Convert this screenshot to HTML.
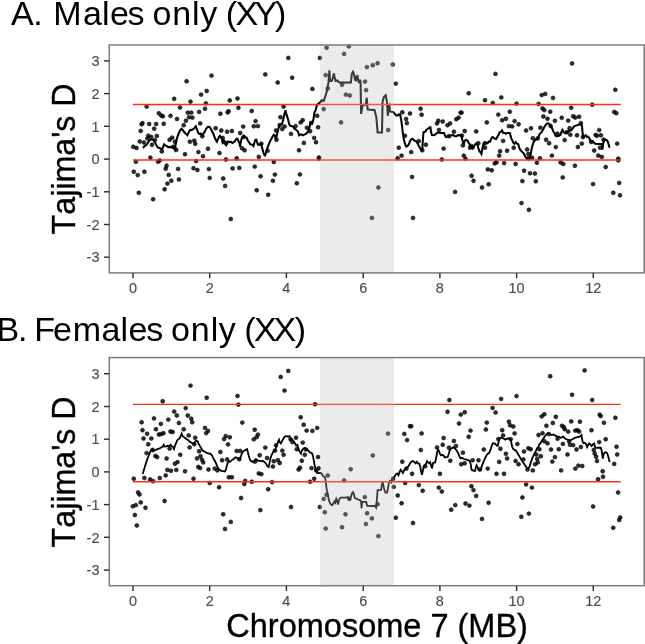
<!DOCTYPE html>
<html lang="en"><head><meta charset="utf-8"><title>Tajima's D on Chromosome 7</title>
<style>html,body{margin:0;padding:0;background:#fff;}body{width:645px;height:644px;overflow:hidden;font-family:"Liberation Sans",Arial,sans-serif;}svg{display:block;}text{font-kerning:none;}</style>
</head><body>
<svg width="645" height="644" viewBox="0 0 645 644" font-family="'Liberation Sans', Arial, sans-serif">
<rect width="645" height="644" fill="#fff"/>
<g>
<g fill="rgba(0,0,0,0.82)" stroke="rgba(0,0,0,0.82)" stroke-width="0.7">
<circle cx="211.5" cy="75.6" r="1.95"/>
<circle cx="186.6" cy="81.3" r="1.95"/>
<circle cx="206.7" cy="91.0" r="1.95"/>
<circle cx="201.1" cy="94.6" r="1.95"/>
<circle cx="174.2" cy="98.8" r="1.95"/>
<circle cx="229.8" cy="100.4" r="1.95"/>
<circle cx="190.5" cy="101.6" r="1.95"/>
<circle cx="205.9" cy="103.4" r="1.95"/>
<circle cx="146.6" cy="106.6" r="1.95"/>
<circle cx="180.0" cy="107.5" r="1.95"/>
<circle cx="205.0" cy="108.7" r="1.95"/>
<circle cx="199.1" cy="111.9" r="1.95"/>
<circle cx="228.5" cy="111.2" r="1.95"/>
<circle cx="227.6" cy="112.4" r="1.95"/>
<circle cx="187.8" cy="112.6" r="1.95"/>
<circle cx="191.3" cy="112.6" r="1.95"/>
<circle cx="220.4" cy="113.7" r="1.95"/>
<circle cx="158.9" cy="113.3" r="1.95"/>
<circle cx="161.2" cy="115.5" r="1.95"/>
<circle cx="162.8" cy="116.3" r="1.95"/>
<circle cx="170.5" cy="115.8" r="1.95"/>
<circle cx="189.0" cy="117.2" r="1.95"/>
<circle cx="192.4" cy="117.6" r="1.95"/>
<circle cx="177.0" cy="119.0" r="1.95"/>
<circle cx="185.9" cy="120.8" r="1.95"/>
<circle cx="142.5" cy="123.1" r="1.95"/>
<circle cx="141.6" cy="124.3" r="1.95"/>
<circle cx="149.2" cy="124.0" r="1.95"/>
<circle cx="156.1" cy="124.0" r="1.95"/>
<circle cx="163.7" cy="123.8" r="1.95"/>
<circle cx="200.2" cy="123.4" r="1.95"/>
<circle cx="183.7" cy="125.2" r="1.95"/>
<circle cx="154.2" cy="128.7" r="1.95"/>
<circle cx="215.6" cy="128.2" r="1.95"/>
<circle cx="140.7" cy="130.9" r="1.95"/>
<circle cx="221.3" cy="130.5" r="1.95"/>
<circle cx="227.1" cy="131.7" r="1.95"/>
<circle cx="231.9" cy="131.0" r="1.95"/>
<circle cx="148.3" cy="135.6" r="1.95"/>
<circle cx="156.8" cy="136.0" r="1.95"/>
<circle cx="151.2" cy="137.0" r="1.95"/>
<circle cx="147.4" cy="138.5" r="1.95"/>
<circle cx="202.3" cy="136.3" r="1.95"/>
<circle cx="172.2" cy="137.6" r="1.95"/>
<circle cx="169.6" cy="139.7" r="1.95"/>
<circle cx="154.9" cy="140.1" r="1.95"/>
<circle cx="139.8" cy="141.5" r="1.95"/>
<circle cx="143.9" cy="142.5" r="1.95"/>
<circle cx="189.9" cy="141.8" r="1.95"/>
<circle cx="194.3" cy="140.6" r="1.95"/>
<circle cx="195.2" cy="143.8" r="1.95"/>
<circle cx="174.9" cy="141.7" r="1.95"/>
<circle cx="152.0" cy="144.8" r="1.95"/>
<circle cx="133.3" cy="146.8" r="1.95"/>
<circle cx="136.5" cy="148.0" r="1.95"/>
<circle cx="173.3" cy="146.8" r="1.95"/>
<circle cx="176.3" cy="149.8" r="1.95"/>
<circle cx="161.8" cy="151.4" r="1.95"/>
<circle cx="208.0" cy="148.7" r="1.95"/>
<circle cx="198.4" cy="152.1" r="1.95"/>
<circle cx="185.0" cy="154.2" r="1.95"/>
<circle cx="219.5" cy="153.0" r="1.95"/>
<circle cx="203.0" cy="156.2" r="1.95"/>
<circle cx="150.4" cy="157.6" r="1.95"/>
<circle cx="222.7" cy="137.9" r="1.95"/>
<circle cx="223.6" cy="141.5" r="1.95"/>
<circle cx="226.2" cy="143.2" r="1.95"/>
<circle cx="135.9" cy="161.7" r="1.95"/>
<circle cx="158.1" cy="161.7" r="1.95"/>
<circle cx="159.8" cy="160.4" r="1.95"/>
<circle cx="196.1" cy="161.1" r="1.95"/>
<circle cx="225.9" cy="159.5" r="1.95"/>
<circle cx="166.6" cy="165.7" r="1.95"/>
<circle cx="165.7" cy="168.7" r="1.95"/>
<circle cx="178.1" cy="168.9" r="1.95"/>
<circle cx="193.5" cy="168.2" r="1.95"/>
<circle cx="197.4" cy="170.0" r="1.95"/>
<circle cx="208.9" cy="169.1" r="1.95"/>
<circle cx="232.6" cy="168.4" r="1.95"/>
<circle cx="133.8" cy="171.7" r="1.95"/>
<circle cx="144.4" cy="171.7" r="1.95"/>
<circle cx="137.7" cy="175.1" r="1.95"/>
<circle cx="168.7" cy="174.9" r="1.95"/>
<circle cx="209.7" cy="177.9" r="1.95"/>
<circle cx="223.2" cy="178.5" r="1.95"/>
<circle cx="178.9" cy="179.5" r="1.95"/>
<circle cx="171.3" cy="180.8" r="1.95"/>
<circle cx="167.4" cy="183.6" r="1.95"/>
<circle cx="225.1" cy="185.9" r="1.95"/>
<circle cx="164.6" cy="189.3" r="1.95"/>
<circle cx="138.8" cy="192.8" r="1.95"/>
<circle cx="153.1" cy="199.2" r="1.95"/>
<circle cx="230.8" cy="219.0" r="1.95"/>
<circle cx="326.6" cy="47.7" r="1.95"/>
<circle cx="344.1" cy="53.9" r="1.95"/>
<circle cx="288.3" cy="57.9" r="1.95"/>
<circle cx="319.9" cy="57.9" r="1.95"/>
<circle cx="265.3" cy="74.4" r="1.95"/>
<circle cx="292.2" cy="77.7" r="1.95"/>
<circle cx="325.7" cy="75.1" r="1.95"/>
<circle cx="277.7" cy="82.5" r="1.95"/>
<circle cx="312.4" cy="88.9" r="1.95"/>
<circle cx="342.0" cy="84.8" r="1.95"/>
<circle cx="327.8" cy="88.4" r="1.95"/>
<circle cx="345.9" cy="94.6" r="1.95"/>
<circle cx="237.5" cy="98.5" r="1.95"/>
<circle cx="283.6" cy="106.6" r="1.95"/>
<circle cx="238.4" cy="107.8" r="1.95"/>
<circle cx="323.7" cy="109.1" r="1.95"/>
<circle cx="251.7" cy="111.0" r="1.95"/>
<circle cx="317.2" cy="115.8" r="1.95"/>
<circle cx="280.4" cy="117.2" r="1.95"/>
<circle cx="255.6" cy="121.1" r="1.95"/>
<circle cx="302.7" cy="120.2" r="1.95"/>
<circle cx="300.7" cy="122.4" r="1.95"/>
<circle cx="341.1" cy="122.4" r="1.95"/>
<circle cx="243.2" cy="126.6" r="1.95"/>
<circle cx="253.8" cy="126.3" r="1.95"/>
<circle cx="257.9" cy="126.1" r="1.95"/>
<circle cx="279.7" cy="125.2" r="1.95"/>
<circle cx="284.5" cy="126.4" r="1.95"/>
<circle cx="282.3" cy="129.1" r="1.95"/>
<circle cx="295.6" cy="126.1" r="1.95"/>
<circle cx="306.9" cy="127.7" r="1.95"/>
<circle cx="318.1" cy="127.3" r="1.95"/>
<circle cx="311.2" cy="122.9" r="1.95"/>
<circle cx="310.1" cy="131.2" r="1.95"/>
<circle cx="276.0" cy="130.5" r="1.95"/>
<circle cx="240.2" cy="133.0" r="1.95"/>
<circle cx="291.0" cy="133.9" r="1.95"/>
<circle cx="314.2" cy="137.9" r="1.95"/>
<circle cx="243.7" cy="137.0" r="1.95"/>
<circle cx="316.0" cy="142.2" r="1.95"/>
<circle cx="303.9" cy="142.9" r="1.95"/>
<circle cx="276.5" cy="139.7" r="1.95"/>
<circle cx="261.4" cy="143.6" r="1.95"/>
<circle cx="242.0" cy="148.2" r="1.95"/>
<circle cx="244.6" cy="150.3" r="1.95"/>
<circle cx="299.0" cy="150.3" r="1.95"/>
<circle cx="267.6" cy="150.7" r="1.95"/>
<circle cx="258.8" cy="156.9" r="1.95"/>
<circle cx="319.0" cy="157.4" r="1.95"/>
<circle cx="236.7" cy="158.3" r="1.95"/>
<circle cx="273.8" cy="162.0" r="1.95"/>
<circle cx="319.0" cy="158.5" r="1.95"/>
<circle cx="239.3" cy="167.9" r="1.95"/>
<circle cx="254.7" cy="166.6" r="1.95"/>
<circle cx="299.9" cy="174.4" r="1.95"/>
<circle cx="274.9" cy="174.6" r="1.95"/>
<circle cx="260.6" cy="176.3" r="1.95"/>
<circle cx="272.9" cy="180.8" r="1.95"/>
<circle cx="296.8" cy="183.3" r="1.95"/>
<circle cx="256.7" cy="190.3" r="1.95"/>
<circle cx="268.2" cy="194.8" r="1.95"/>
<circle cx="348.9" cy="46.4" r="1.95"/>
<circle cx="377.6" cy="63.2" r="1.95"/>
<circle cx="372.8" cy="65.2" r="1.95"/>
<circle cx="366.9" cy="67.1" r="1.95"/>
<circle cx="392.8" cy="64.5" r="1.95"/>
<circle cx="365.0" cy="81.6" r="1.95"/>
<circle cx="395.8" cy="83.6" r="1.95"/>
<circle cx="366.1" cy="90.1" r="1.95"/>
<circle cx="349.8" cy="95.5" r="1.95"/>
<circle cx="420.6" cy="108.7" r="1.95"/>
<circle cx="402.3" cy="112.3" r="1.95"/>
<circle cx="410.0" cy="113.5" r="1.95"/>
<circle cx="421.6" cy="114.7" r="1.95"/>
<circle cx="460.6" cy="112.6" r="1.95"/>
<circle cx="406.1" cy="119.0" r="1.95"/>
<circle cx="406.9" cy="123.1" r="1.95"/>
<circle cx="458.6" cy="117.6" r="1.95"/>
<circle cx="456.3" cy="119.3" r="1.95"/>
<circle cx="438.3" cy="120.8" r="1.95"/>
<circle cx="442.7" cy="121.5" r="1.95"/>
<circle cx="437.0" cy="123.4" r="1.95"/>
<circle cx="450.1" cy="123.4" r="1.95"/>
<circle cx="447.5" cy="125.2" r="1.95"/>
<circle cx="388.2" cy="130.0" r="1.95"/>
<circle cx="439.0" cy="130.0" r="1.95"/>
<circle cx="453.9" cy="131.7" r="1.95"/>
<circle cx="405.0" cy="135.8" r="1.95"/>
<circle cx="448.9" cy="136.2" r="1.95"/>
<circle cx="418.8" cy="141.1" r="1.95"/>
<circle cx="425.9" cy="144.7" r="1.95"/>
<circle cx="398.8" cy="147.7" r="1.95"/>
<circle cx="422.3" cy="150.3" r="1.95"/>
<circle cx="443.6" cy="148.6" r="1.95"/>
<circle cx="411.2" cy="152.1" r="1.95"/>
<circle cx="401.6" cy="155.6" r="1.95"/>
<circle cx="397.6" cy="158.3" r="1.95"/>
<circle cx="441.8" cy="159.5" r="1.95"/>
<circle cx="412.1" cy="176.9" r="1.95"/>
<circle cx="378.4" cy="187.5" r="1.95"/>
<circle cx="455.1" cy="191.9" r="1.95"/>
<circle cx="371.9" cy="217.9" r="1.95"/>
<circle cx="413.0" cy="217.9" r="1.95"/>
<circle cx="572.1" cy="63.4" r="1.95"/>
<circle cx="495.5" cy="73.9" r="1.95"/>
<circle cx="468.7" cy="93.3" r="1.95"/>
<circle cx="545.2" cy="93.9" r="1.95"/>
<circle cx="541.7" cy="95.1" r="1.95"/>
<circle cx="501.3" cy="97.4" r="1.95"/>
<circle cx="553.0" cy="97.9" r="1.95"/>
<circle cx="485.0" cy="100.2" r="1.95"/>
<circle cx="492.8" cy="102.9" r="1.95"/>
<circle cx="516.5" cy="103.6" r="1.95"/>
<circle cx="538.6" cy="103.9" r="1.95"/>
<circle cx="571.2" cy="107.7" r="1.95"/>
<circle cx="542.5" cy="108.4" r="1.95"/>
<circle cx="544.3" cy="110.1" r="1.95"/>
<circle cx="461.6" cy="112.6" r="1.95"/>
<circle cx="509.8" cy="111.7" r="1.95"/>
<circle cx="550.2" cy="111.7" r="1.95"/>
<circle cx="498.3" cy="114.6" r="1.95"/>
<circle cx="543.4" cy="116.5" r="1.95"/>
<circle cx="573.2" cy="116.2" r="1.95"/>
<circle cx="575.3" cy="117.6" r="1.95"/>
<circle cx="547.5" cy="118.8" r="1.95"/>
<circle cx="505.9" cy="118.8" r="1.95"/>
<circle cx="502.2" cy="120.2" r="1.95"/>
<circle cx="561.7" cy="117.8" r="1.95"/>
<circle cx="568.2" cy="120.6" r="1.95"/>
<circle cx="554.9" cy="120.8" r="1.95"/>
<circle cx="514.6" cy="121.1" r="1.95"/>
<circle cx="486.8" cy="122.4" r="1.95"/>
<circle cx="518.6" cy="124.3" r="1.95"/>
<circle cx="508.9" cy="126.1" r="1.95"/>
<circle cx="512.1" cy="126.4" r="1.95"/>
<circle cx="540.4" cy="127.7" r="1.95"/>
<circle cx="531.0" cy="128.2" r="1.95"/>
<circle cx="526.1" cy="130.5" r="1.95"/>
<circle cx="569.6" cy="128.2" r="1.95"/>
<circle cx="464.7" cy="131.0" r="1.95"/>
<circle cx="476.2" cy="131.4" r="1.95"/>
<circle cx="462.0" cy="135.6" r="1.95"/>
<circle cx="570.3" cy="134.7" r="1.95"/>
<circle cx="532.8" cy="138.3" r="1.95"/>
<circle cx="546.1" cy="139.7" r="1.95"/>
<circle cx="503.1" cy="140.9" r="1.95"/>
<circle cx="564.7" cy="140.1" r="1.95"/>
<circle cx="549.1" cy="143.2" r="1.95"/>
<circle cx="478.3" cy="143.2" r="1.95"/>
<circle cx="462.9" cy="145.4" r="1.95"/>
<circle cx="470.0" cy="147.7" r="1.95"/>
<circle cx="472.6" cy="147.3" r="1.95"/>
<circle cx="485.0" cy="147.7" r="1.95"/>
<circle cx="513.7" cy="147.7" r="1.95"/>
<circle cx="555.8" cy="147.1" r="1.95"/>
<circle cx="527.1" cy="149.4" r="1.95"/>
<circle cx="500.1" cy="151.2" r="1.95"/>
<circle cx="507.1" cy="150.7" r="1.95"/>
<circle cx="499.2" cy="155.6" r="1.95"/>
<circle cx="528.4" cy="153.9" r="1.95"/>
<circle cx="551.9" cy="155.6" r="1.95"/>
<circle cx="463.8" cy="155.6" r="1.95"/>
<circle cx="539.9" cy="158.3" r="1.95"/>
<circle cx="465.5" cy="158.6" r="1.95"/>
<circle cx="528.4" cy="158.5" r="1.95"/>
<circle cx="494.7" cy="163.4" r="1.95"/>
<circle cx="496.5" cy="162.4" r="1.95"/>
<circle cx="504.1" cy="163.1" r="1.95"/>
<circle cx="515.6" cy="164.0" r="1.95"/>
<circle cx="536.9" cy="162.7" r="1.95"/>
<circle cx="560.6" cy="162.5" r="1.95"/>
<circle cx="563.3" cy="164.0" r="1.95"/>
<circle cx="574.9" cy="165.7" r="1.95"/>
<circle cx="487.8" cy="169.4" r="1.95"/>
<circle cx="491.7" cy="170.3" r="1.95"/>
<circle cx="524.1" cy="170.7" r="1.95"/>
<circle cx="530.0" cy="173.2" r="1.95"/>
<circle cx="534.9" cy="173.5" r="1.95"/>
<circle cx="471.6" cy="175.8" r="1.95"/>
<circle cx="562.7" cy="177.4" r="1.95"/>
<circle cx="473.5" cy="180.8" r="1.95"/>
<circle cx="522.4" cy="181.1" r="1.95"/>
<circle cx="535.8" cy="181.3" r="1.95"/>
<circle cx="488.7" cy="184.3" r="1.95"/>
<circle cx="482.0" cy="187.5" r="1.95"/>
<circle cx="521.5" cy="203.1" r="1.95"/>
<circle cx="528.9" cy="209.8" r="1.95"/>
<circle cx="615.3" cy="89.8" r="1.95"/>
<circle cx="592.2" cy="104.7" r="1.95"/>
<circle cx="614.2" cy="111.9" r="1.95"/>
<circle cx="616.3" cy="113.2" r="1.95"/>
<circle cx="579.1" cy="116.7" r="1.95"/>
<circle cx="580.9" cy="123.1" r="1.95"/>
<circle cx="599.2" cy="130.1" r="1.95"/>
<circle cx="577.0" cy="135.3" r="1.95"/>
<circle cx="595.6" cy="134.9" r="1.95"/>
<circle cx="596.9" cy="135.8" r="1.95"/>
<circle cx="600.9" cy="135.3" r="1.95"/>
<circle cx="582.9" cy="137.0" r="1.95"/>
<circle cx="603.6" cy="139.7" r="1.95"/>
<circle cx="591.2" cy="142.0" r="1.95"/>
<circle cx="581.8" cy="143.6" r="1.95"/>
<circle cx="617.2" cy="143.6" r="1.95"/>
<circle cx="577.9" cy="147.0" r="1.95"/>
<circle cx="600.0" cy="147.7" r="1.95"/>
<circle cx="594.2" cy="150.5" r="1.95"/>
<circle cx="598.3" cy="155.6" r="1.95"/>
<circle cx="601.8" cy="156.9" r="1.95"/>
<circle cx="618.3" cy="158.6" r="1.95"/>
<circle cx="618.3" cy="160.4" r="1.95"/>
<circle cx="605.7" cy="167.0" r="1.95"/>
<circle cx="593.1" cy="184.1" r="1.95"/>
<circle cx="619.2" cy="182.9" r="1.95"/>
<circle cx="613.3" cy="192.8" r="1.95"/>
<circle cx="620.0" cy="195.3" r="1.95"/>
<circle cx="550.6" cy="126.0" r="1.95"/>
<circle cx="557.4" cy="133.7" r="1.95"/>
<circle cx="566.7" cy="132.2" r="1.95"/>
<circle cx="537.7" cy="138.4" r="1.95"/>
<circle cx="484.7" cy="143.4" r="1.95"/>
<circle cx="471.2" cy="145.9" r="1.95"/>
<circle cx="532.1" cy="157.7" r="1.95"/>
</g>
<polyline points="143.0,148.1 144.2,146.5 145.5,145.3 146.7,144.7 147.9,142.8 149.2,140.7 150.4,139.7 151.9,139.4 153.2,139.9 154.4,141.6 155.6,143.4 156.6,145.7 157.9,147.4 159.4,148.1 161.0,148.6 162.2,149.4 163.2,146.5 164.1,144.4 165.3,145.3 166.8,146.1 168.1,147.1 169.7,146.9 171.3,147.4 172.8,146.9 174.0,148.4 175.0,149.9 175.6,144.7 176.5,140.3 177.5,136.6 178.7,133.5 180.2,130.4 181.5,128.8 182.7,130.0 184.2,132.0 185.8,133.7 187.4,135.3 188.7,132.2 190.2,129.8 191.7,130.0 193.3,129.1 194.5,127.9 195.8,126.3 197.0,129.5 198.2,132.9 199.5,134.1 200.7,133.5 202.0,135.0 203.2,134.1 204.8,131.6 206.3,128.5 207.6,127.0 209.4,126.8 210.7,128.5 211.9,131.0 213.2,133.5 214.4,136.6 215.6,139.7 216.9,141.6 218.0,139.3 219.0,136.8 219.9,135.9 221.1,137.4 222.0,138.7 222.7,142.4 223.6,141.1 224.8,143.4 226.1,145.1 226.9,142.4 228.2,141.4 229.8,142.1 231.0,141.8 232.3,143.0 233.9,142.1 235.4,140.5 236.6,138.7 237.6,138.9 238.5,141.1 239.4,143.4 240.1,146.7 240.7,142.4 241.6,138.7 242.6,136.8 243.8,135.6 245.1,137.2 246.6,137.7 247.8,140.5 249.1,142.4 250.3,144.2 252.2,144.9 253.4,146.1 254.3,143.0 255.3,139.9 256.3,139.7 257.1,142.4 258.0,144.6 259.6,144.6 260.9,144.2 261.7,146.1 262.5,149.2 263.3,152.3 264.2,154.8 265.2,155.4 266.2,151.7 267.1,148.6 267.9,146.7 268.9,144.2 270.2,141.1 271.4,138.7 272.7,136.2 273.9,134.7 274.9,135.6 275.8,139.3 276.6,136.2 277.6,131.8 278.6,128.1 279.5,125.0 280.7,124.0 282.0,123.8 282.8,121.3 283.8,116.9 284.8,112.6 285.5,110.3 286.3,113.8 287.3,116.9 288.2,120.0 289.1,123.8 290.0,125.6 291.9,126.2 293.2,126.9 294.4,128.7 295.6,129.3 298.1,131.7 299.1,135.3 301.3,134.4 303.0,135.3 304.8,134.4 306.6,133.5 308.0,131.7 309.2,128.2 310.5,122.9 311.9,123.8 313.3,120.2 314.5,112.3 315.8,109.6 316.8,105.2 318.0,104.0 320.5,102.1 321.7,100.2 323.6,100.9 324.8,97.8 326.1,94.0 327.3,89.1 328.6,81.6 329.4,70.4 330.0,81.0 331.7,81.0 332.9,77.9 333.9,73.5 334.8,77.9 335.6,81.0 337.3,80.4 338.5,81.9 340.4,82.6 350.9,82.5 351.8,74.1 353.0,71.9 354.0,74.1 355.0,79.1 355.9,81.0 356.5,76.6 357.5,76.0 358.4,81.0 359.2,82.8 360.0,79.7 360.6,82.8 361.1,113.9 362.1,107.7 363.0,105.0 365.8,104.6 366.7,97.8 367.7,109.6 374.5,109.9 376.4,117.6 377.6,132.5 382.0,132.5 382.6,101.5 383.8,97.1 385.7,95.3 386.9,101.5 387.8,115.8 388.6,106.4 389.4,105.2 390.0,111.4 391.3,111.7 393.2,112.0 396.2,115.5 397.7,115.5 398.9,114.2 400.2,114.8 401.2,119.8 402.2,127.3 403.0,134.1 403.9,139.7 404.9,143.4 406.1,146.5 407.4,146.1 408.6,144.7 409.9,141.6 411.1,139.4 412.4,138.7 413.6,139.9 414.8,140.9 416.3,141.2 417.6,143.4 418.8,145.9 420.1,148.1 421.3,150.2 422.3,149.4 422.9,139.7 423.5,132.2 425.4,131.6 426.6,129.8 427.9,128.8 429.5,127.5 430.4,127.3 431.0,132.2 432.0,135.0 434.1,135.3 435.3,134.5 437.0,132.9 438.4,132.5 440.3,132.9 442.2,132.9 444.0,132.9 444.9,135.3 445.9,137.0 447.8,136.6 449.6,136.2 451.5,135.3 453.4,135.0 454.8,136.2 456.5,136.2 458.1,135.3 459.6,135.0 461.1,135.3 462.0,138.4 463.0,142.2 463.9,143.4 464.8,140.9 465.8,139.7 467.6,140.7 470.0,145.3 471.2,147.1 472.5,148.4 473.7,146.5 475.0,144.7 476.2,143.4 477.5,144.7 478.4,148.4 479.3,150.9 480.6,152.7 481.4,154.0 482.2,149.6 483.0,145.9 483.9,143.4 484.9,142.2 486.4,142.8 487.6,143.2 488.6,141.6 489.9,141.9 491.1,139.1 492.4,137.0 493.6,137.5 494.8,138.7 496.1,139.1 497.3,137.0 498.6,134.7 499.6,132.2 501.1,131.6 502.0,130.4 503.3,132.9 504.8,132.9 506.0,133.7 507.3,132.9 508.8,132.9 510.0,133.2 510.7,136.6 511.6,139.1 512.5,140.9 513.5,142.8 514.5,143.7 515.7,142.2 517.0,143.7 518.2,144.0 519.1,147.1 519.9,149.4 521.2,150.9 522.4,152.1 523.7,153.4 524.7,155.2 525.7,157.1 526.9,158.1 528.4,158.1 529.6,157.7 530.6,154.6 531.5,149.6 532.4,145.9 533.4,142.8 534.3,140.9 535.6,139.7 537.1,139.1 538.3,137.2 539.6,134.1 540.8,132.9 542.0,131.6 543.3,129.1 544.5,126.6 545.8,124.8 547.0,123.5 548.5,123.3 551.2,126.0 552.2,128.5 553.4,131.6 554.7,133.5 555.9,136.0 557.4,136.2 558.9,135.7 560.5,134.7 561.4,132.2 562.4,130.0 563.4,131.6 564.6,132.9 566.1,132.9 567.6,132.0 569.2,131.0 571.1,130.4 572.3,129.1 573.6,127.0 574.8,126.0 576.7,125.4 578.3,124.8 579.8,124.5 581.3,124.2 582.0,126.0 582.5,132.2 583.3,137.2 584.5,136.2 585.7,135.3 587.0,137.0 588.2,136.6 589.1,137.8 590.3,140.3 591.6,141.6 592.8,141.2 594.1,142.8 595.3,143.7 599.7,144.0 601.9,144.0 602.4,149.6 603.1,144.7 603.6,140.7 604.6,139.4 606.1,139.7 607.4,140.9 608.4,143.4 609.0,145.9 609.6,147.8" fill="none" stroke="#000" stroke-width="2.05" stroke-linejoin="miter" stroke-miterlimit="3" stroke-linecap="butt"/>
<line x1="132.9" x2="620.7" y1="104.5" y2="104.5" stroke="#ff2f12" stroke-width="1.35"/>
<line x1="132.9" x2="620.7" y1="160.0" y2="160.0" stroke="#ff2f12" stroke-width="1.35"/>
<rect x="320.2" y="45.0" width="73.8" height="227.9" fill="rgb(190,190,190)" fill-opacity="0.3"/>
<rect x="109.3" y="45.0" width="534.9" height="227.9" fill="none" stroke="#7c7c7c" stroke-width="1.5"/>
<g stroke="#2e2e2e" stroke-width="1.45">
<line x1="104.0" x2="109.3" y1="257.2" y2="257.2"/>
<line x1="104.0" x2="109.3" y1="224.5" y2="224.5"/>
<line x1="104.0" x2="109.3" y1="191.8" y2="191.8"/>
<line x1="104.0" x2="109.3" y1="159.1" y2="159.1"/>
<line x1="104.0" x2="109.3" y1="126.3" y2="126.3"/>
<line x1="104.0" x2="109.3" y1="93.6" y2="93.6"/>
<line x1="104.0" x2="109.3" y1="60.9" y2="60.9"/>
<line x1="133.0" x2="133.0" y1="272.9" y2="278.2"/>
<line x1="209.7" x2="209.7" y1="272.9" y2="278.2"/>
<line x1="286.4" x2="286.4" y1="272.9" y2="278.2"/>
<line x1="363.2" x2="363.2" y1="272.9" y2="278.2"/>
<line x1="439.9" x2="439.9" y1="272.9" y2="278.2"/>
<line x1="516.6" x2="516.6" y1="272.9" y2="278.2"/>
<line x1="593.3" x2="593.3" y1="272.9" y2="278.2"/>
</g>
<g fill="#4d4d4d" stroke="#4d4d4d" stroke-width="0.15" font-size="14.5">
<text transform="translate(99.5,262.4) scale(1,1.045)" text-anchor="end">-3</text>
<text transform="translate(99.5,229.7) scale(1,1.045)" text-anchor="end">-2</text>
<text transform="translate(99.5,197.0) scale(1,1.045)" text-anchor="end">-1</text>
<text transform="translate(99.5,164.2) scale(1,1.045)" text-anchor="end">0</text>
<text transform="translate(99.5,131.5) scale(1,1.045)" text-anchor="end">1</text>
<text transform="translate(99.5,98.8) scale(1,1.045)" text-anchor="end">2</text>
<text transform="translate(99.5,66.1) scale(1,1.045)" text-anchor="end">3</text>
<text transform="translate(133.0,293.3) scale(1,1.045)" text-anchor="middle">0</text>
<text transform="translate(209.7,293.3) scale(1,1.045)" text-anchor="middle">2</text>
<text transform="translate(286.4,293.3) scale(1,1.045)" text-anchor="middle">4</text>
<text transform="translate(363.2,293.3) scale(1,1.045)" text-anchor="middle">6</text>
<text transform="translate(439.9,293.3) scale(1,1.045)" text-anchor="middle">8</text>
<text transform="translate(516.6,293.3) scale(1,1.045)" text-anchor="middle">10</text>
<text transform="translate(593.3,293.3) scale(1,1.045)" text-anchor="middle">12</text>
</g>
</g>
<g>
<g fill="rgba(0,0,0,0.82)" stroke="rgba(0,0,0,0.82)" stroke-width="0.7">
<circle cx="190.5" cy="385.6" r="1.95"/>
<circle cx="206.7" cy="397.7" r="1.95"/>
<circle cx="162.7" cy="401.2" r="1.95"/>
<circle cx="185.7" cy="408.1" r="1.95"/>
<circle cx="174.2" cy="411.6" r="1.95"/>
<circle cx="176.8" cy="415.5" r="1.95"/>
<circle cx="187.8" cy="415.5" r="1.95"/>
<circle cx="154.0" cy="418.4" r="1.95"/>
<circle cx="191.3" cy="418.7" r="1.95"/>
<circle cx="168.3" cy="419.6" r="1.95"/>
<circle cx="141.6" cy="422.3" r="1.95"/>
<circle cx="192.2" cy="422.3" r="1.95"/>
<circle cx="178.9" cy="423.0" r="1.95"/>
<circle cx="160.9" cy="423.9" r="1.95"/>
<circle cx="205.0" cy="427.9" r="1.95"/>
<circle cx="155.9" cy="429.2" r="1.95"/>
<circle cx="142.5" cy="430.2" r="1.95"/>
<circle cx="183.7" cy="429.3" r="1.95"/>
<circle cx="208.0" cy="430.9" r="1.95"/>
<circle cx="170.5" cy="431.5" r="1.95"/>
<circle cx="172.6" cy="432.0" r="1.95"/>
<circle cx="206.2" cy="433.1" r="1.95"/>
<circle cx="147.1" cy="433.8" r="1.95"/>
<circle cx="163.4" cy="433.2" r="1.95"/>
<circle cx="158.9" cy="434.5" r="1.95"/>
<circle cx="161.2" cy="434.1" r="1.95"/>
<circle cx="188.7" cy="435.4" r="1.95"/>
<circle cx="225.7" cy="436.1" r="1.95"/>
<circle cx="195.2" cy="437.7" r="1.95"/>
<circle cx="229.8" cy="437.3" r="1.95"/>
<circle cx="143.5" cy="438.5" r="1.95"/>
<circle cx="151.3" cy="438.5" r="1.95"/>
<circle cx="224.1" cy="439.1" r="1.95"/>
<circle cx="148.3" cy="444.2" r="1.95"/>
<circle cx="194.3" cy="444.2" r="1.95"/>
<circle cx="228.0" cy="444.4" r="1.95"/>
<circle cx="189.6" cy="447.4" r="1.95"/>
<circle cx="169.6" cy="448.6" r="1.95"/>
<circle cx="152.7" cy="450.0" r="1.95"/>
<circle cx="199.1" cy="451.3" r="1.95"/>
<circle cx="146.6" cy="453.1" r="1.95"/>
<circle cx="220.4" cy="452.0" r="1.95"/>
<circle cx="180.2" cy="454.8" r="1.95"/>
<circle cx="155.4" cy="455.9" r="1.95"/>
<circle cx="157.2" cy="457.1" r="1.95"/>
<circle cx="200.5" cy="456.2" r="1.95"/>
<circle cx="197.0" cy="458.4" r="1.95"/>
<circle cx="166.6" cy="458.5" r="1.95"/>
<circle cx="202.0" cy="459.8" r="1.95"/>
<circle cx="227.1" cy="459.4" r="1.95"/>
<circle cx="222.1" cy="460.3" r="1.95"/>
<circle cx="177.5" cy="462.1" r="1.95"/>
<circle cx="203.2" cy="462.4" r="1.95"/>
<circle cx="174.9" cy="463.7" r="1.95"/>
<circle cx="198.2" cy="466.9" r="1.95"/>
<circle cx="200.2" cy="468.1" r="1.95"/>
<circle cx="167.4" cy="469.9" r="1.95"/>
<circle cx="171.0" cy="470.8" r="1.95"/>
<circle cx="176.3" cy="469.9" r="1.95"/>
<circle cx="185.0" cy="471.3" r="1.95"/>
<circle cx="208.5" cy="469.5" r="1.95"/>
<circle cx="214.7" cy="468.6" r="1.95"/>
<circle cx="217.4" cy="470.4" r="1.95"/>
<circle cx="165.7" cy="475.4" r="1.95"/>
<circle cx="133.8" cy="478.7" r="1.95"/>
<circle cx="144.4" cy="478.0" r="1.95"/>
<circle cx="159.8" cy="478.0" r="1.95"/>
<circle cx="150.1" cy="479.4" r="1.95"/>
<circle cx="153.1" cy="481.2" r="1.95"/>
<circle cx="193.5" cy="478.7" r="1.95"/>
<circle cx="228.9" cy="477.3" r="1.95"/>
<circle cx="231.9" cy="477.3" r="1.95"/>
<circle cx="209.7" cy="483.0" r="1.95"/>
<circle cx="219.1" cy="487.2" r="1.95"/>
<circle cx="138.1" cy="492.4" r="1.95"/>
<circle cx="139.5" cy="494.5" r="1.95"/>
<circle cx="164.6" cy="501.0" r="1.95"/>
<circle cx="140.7" cy="502.4" r="1.95"/>
<circle cx="135.9" cy="505.1" r="1.95"/>
<circle cx="132.9" cy="506.3" r="1.95"/>
<circle cx="145.5" cy="507.8" r="1.95"/>
<circle cx="134.9" cy="515.0" r="1.95"/>
<circle cx="223.2" cy="514.3" r="1.95"/>
<circle cx="230.8" cy="521.9" r="1.95"/>
<circle cx="136.8" cy="525.5" r="1.95"/>
<circle cx="225.0" cy="529.0" r="1.95"/>
<circle cx="288.3" cy="370.9" r="1.95"/>
<circle cx="280.7" cy="376.9" r="1.95"/>
<circle cx="284.5" cy="390.6" r="1.95"/>
<circle cx="237.5" cy="395.9" r="1.95"/>
<circle cx="238.4" cy="404.6" r="1.95"/>
<circle cx="315.1" cy="404.2" r="1.95"/>
<circle cx="300.7" cy="417.3" r="1.95"/>
<circle cx="242.3" cy="422.6" r="1.95"/>
<circle cx="303.7" cy="424.7" r="1.95"/>
<circle cx="254.7" cy="429.7" r="1.95"/>
<circle cx="317.2" cy="427.9" r="1.95"/>
<circle cx="306.6" cy="430.6" r="1.95"/>
<circle cx="312.4" cy="430.9" r="1.95"/>
<circle cx="257.9" cy="434.6" r="1.95"/>
<circle cx="256.7" cy="437.1" r="1.95"/>
<circle cx="253.8" cy="439.3" r="1.95"/>
<circle cx="296.0" cy="437.7" r="1.95"/>
<circle cx="290.6" cy="439.4" r="1.95"/>
<circle cx="292.4" cy="442.1" r="1.95"/>
<circle cx="302.7" cy="442.6" r="1.95"/>
<circle cx="276.0" cy="445.3" r="1.95"/>
<circle cx="265.3" cy="447.6" r="1.95"/>
<circle cx="296.8" cy="449.2" r="1.95"/>
<circle cx="236.7" cy="450.9" r="1.95"/>
<circle cx="240.2" cy="450.9" r="1.95"/>
<circle cx="275.1" cy="450.6" r="1.95"/>
<circle cx="282.3" cy="450.6" r="1.95"/>
<circle cx="305.7" cy="449.5" r="1.95"/>
<circle cx="283.6" cy="454.8" r="1.95"/>
<circle cx="304.8" cy="454.8" r="1.95"/>
<circle cx="259.7" cy="455.2" r="1.95"/>
<circle cx="318.1" cy="457.0" r="1.95"/>
<circle cx="267.1" cy="458.0" r="1.95"/>
<circle cx="239.3" cy="459.3" r="1.95"/>
<circle cx="277.9" cy="460.1" r="1.95"/>
<circle cx="273.8" cy="461.2" r="1.95"/>
<circle cx="301.8" cy="460.8" r="1.95"/>
<circle cx="255.2" cy="461.6" r="1.95"/>
<circle cx="279.7" cy="463.0" r="1.95"/>
<circle cx="272.9" cy="466.5" r="1.95"/>
<circle cx="300.0" cy="467.8" r="1.95"/>
<circle cx="311.5" cy="468.1" r="1.95"/>
<circle cx="318.6" cy="468.3" r="1.95"/>
<circle cx="298.6" cy="469.5" r="1.95"/>
<circle cx="316.3" cy="470.4" r="1.95"/>
<circle cx="258.8" cy="473.4" r="1.95"/>
<circle cx="261.4" cy="474.1" r="1.95"/>
<circle cx="327.8" cy="475.5" r="1.95"/>
<circle cx="314.2" cy="478.7" r="1.95"/>
<circle cx="245.2" cy="480.9" r="1.95"/>
<circle cx="251.7" cy="481.7" r="1.95"/>
<circle cx="272.1" cy="482.1" r="1.95"/>
<circle cx="310.1" cy="481.7" r="1.95"/>
<circle cx="344.1" cy="480.5" r="1.95"/>
<circle cx="244.3" cy="484.0" r="1.95"/>
<circle cx="268.2" cy="489.2" r="1.95"/>
<circle cx="326.6" cy="494.7" r="1.95"/>
<circle cx="241.1" cy="498.0" r="1.95"/>
<circle cx="323.7" cy="498.9" r="1.95"/>
<circle cx="291.0" cy="507.0" r="1.95"/>
<circle cx="319.9" cy="507.0" r="1.95"/>
<circle cx="260.4" cy="510.1" r="1.95"/>
<circle cx="324.8" cy="512.2" r="1.95"/>
<circle cx="345.5" cy="514.3" r="1.95"/>
<circle cx="342.0" cy="527.2" r="1.95"/>
<circle cx="325.7" cy="528.6" r="1.95"/>
<circle cx="449.4" cy="400.0" r="1.95"/>
<circle cx="447.5" cy="411.8" r="1.95"/>
<circle cx="460.8" cy="414.6" r="1.95"/>
<circle cx="459.0" cy="423.5" r="1.95"/>
<circle cx="410.0" cy="426.2" r="1.95"/>
<circle cx="411.2" cy="426.2" r="1.95"/>
<circle cx="404.3" cy="433.9" r="1.95"/>
<circle cx="421.6" cy="433.4" r="1.95"/>
<circle cx="388.0" cy="433.6" r="1.95"/>
<circle cx="443.6" cy="438.0" r="1.95"/>
<circle cx="407.1" cy="440.1" r="1.95"/>
<circle cx="453.9" cy="441.0" r="1.95"/>
<circle cx="442.7" cy="444.7" r="1.95"/>
<circle cx="437.0" cy="447.4" r="1.95"/>
<circle cx="456.0" cy="446.0" r="1.95"/>
<circle cx="448.9" cy="447.7" r="1.95"/>
<circle cx="420.8" cy="450.0" r="1.95"/>
<circle cx="372.8" cy="455.5" r="1.95"/>
<circle cx="450.3" cy="460.8" r="1.95"/>
<circle cx="402.3" cy="461.7" r="1.95"/>
<circle cx="350.7" cy="469.2" r="1.95"/>
<circle cx="461.3" cy="464.2" r="1.95"/>
<circle cx="406.4" cy="468.6" r="1.95"/>
<circle cx="425.2" cy="466.3" r="1.95"/>
<circle cx="412.1" cy="473.8" r="1.95"/>
<circle cx="439.9" cy="473.8" r="1.95"/>
<circle cx="393.1" cy="478.7" r="1.95"/>
<circle cx="405.2" cy="483.0" r="1.95"/>
<circle cx="418.8" cy="485.1" r="1.95"/>
<circle cx="393.7" cy="486.9" r="1.95"/>
<circle cx="438.8" cy="487.6" r="1.95"/>
<circle cx="422.7" cy="490.8" r="1.95"/>
<circle cx="441.8" cy="491.5" r="1.95"/>
<circle cx="397.7" cy="495.5" r="1.95"/>
<circle cx="364.8" cy="497.1" r="1.95"/>
<circle cx="349.4" cy="498.9" r="1.95"/>
<circle cx="401.6" cy="503.2" r="1.95"/>
<circle cx="377.6" cy="504.2" r="1.95"/>
<circle cx="455.3" cy="505.1" r="1.95"/>
<circle cx="451.2" cy="509.7" r="1.95"/>
<circle cx="367.1" cy="513.2" r="1.95"/>
<circle cx="395.8" cy="517.7" r="1.95"/>
<circle cx="371.9" cy="518.4" r="1.95"/>
<circle cx="413.0" cy="523.0" r="1.95"/>
<circle cx="365.9" cy="524.0" r="1.95"/>
<circle cx="378.4" cy="536.1" r="1.95"/>
<circle cx="550.2" cy="376.2" r="1.95"/>
<circle cx="572.1" cy="394.8" r="1.95"/>
<circle cx="516.5" cy="396.1" r="1.95"/>
<circle cx="501.1" cy="398.9" r="1.95"/>
<circle cx="492.6" cy="407.9" r="1.95"/>
<circle cx="464.7" cy="412.3" r="1.95"/>
<circle cx="495.6" cy="412.5" r="1.95"/>
<circle cx="544.3" cy="414.3" r="1.95"/>
<circle cx="541.7" cy="416.4" r="1.95"/>
<circle cx="555.8" cy="416.8" r="1.95"/>
<circle cx="508.9" cy="421.7" r="1.95"/>
<circle cx="486.8" cy="422.6" r="1.95"/>
<circle cx="571.2" cy="421.4" r="1.95"/>
<circle cx="552.8" cy="423.0" r="1.95"/>
<circle cx="510.1" cy="425.3" r="1.95"/>
<circle cx="513.3" cy="426.5" r="1.95"/>
<circle cx="546.4" cy="425.8" r="1.95"/>
<circle cx="562.0" cy="425.8" r="1.95"/>
<circle cx="563.8" cy="427.0" r="1.95"/>
<circle cx="564.7" cy="429.2" r="1.95"/>
<circle cx="485.9" cy="429.5" r="1.95"/>
<circle cx="502.2" cy="430.2" r="1.95"/>
<circle cx="470.5" cy="430.6" r="1.95"/>
<circle cx="568.2" cy="431.6" r="1.95"/>
<circle cx="575.3" cy="430.6" r="1.95"/>
<circle cx="514.6" cy="433.4" r="1.95"/>
<circle cx="542.5" cy="433.2" r="1.95"/>
<circle cx="538.5" cy="435.0" r="1.95"/>
<circle cx="503.1" cy="435.4" r="1.95"/>
<circle cx="548.7" cy="434.1" r="1.95"/>
<circle cx="468.7" cy="436.8" r="1.95"/>
<circle cx="557.6" cy="438.7" r="1.95"/>
<circle cx="498.3" cy="439.1" r="1.95"/>
<circle cx="510.7" cy="439.1" r="1.95"/>
<circle cx="544.3" cy="441.2" r="1.95"/>
<circle cx="517.4" cy="444.0" r="1.95"/>
<circle cx="547.5" cy="443.3" r="1.95"/>
<circle cx="562.9" cy="443.9" r="1.95"/>
<circle cx="569.1" cy="441.2" r="1.95"/>
<circle cx="570.0" cy="444.7" r="1.95"/>
<circle cx="573.2" cy="445.1" r="1.95"/>
<circle cx="500.4" cy="448.8" r="1.95"/>
<circle cx="483.8" cy="449.5" r="1.95"/>
<circle cx="528.4" cy="448.3" r="1.95"/>
<circle cx="530.7" cy="449.2" r="1.95"/>
<circle cx="551.0" cy="449.5" r="1.95"/>
<circle cx="558.8" cy="449.2" r="1.95"/>
<circle cx="539.4" cy="449.2" r="1.95"/>
<circle cx="524.0" cy="451.5" r="1.95"/>
<circle cx="462.9" cy="452.7" r="1.95"/>
<circle cx="505.9" cy="453.8" r="1.95"/>
<circle cx="567.5" cy="454.5" r="1.95"/>
<circle cx="540.8" cy="456.2" r="1.95"/>
<circle cx="554.9" cy="457.1" r="1.95"/>
<circle cx="536.3" cy="454.5" r="1.95"/>
<circle cx="507.1" cy="458.5" r="1.95"/>
<circle cx="523.4" cy="459.4" r="1.95"/>
<circle cx="478.5" cy="460.3" r="1.95"/>
<circle cx="472.6" cy="460.3" r="1.95"/>
<circle cx="537.2" cy="458.9" r="1.95"/>
<circle cx="499.2" cy="461.9" r="1.95"/>
<circle cx="515.6" cy="461.0" r="1.95"/>
<circle cx="552.3" cy="461.6" r="1.95"/>
<circle cx="537.8" cy="462.4" r="1.95"/>
<circle cx="518.6" cy="464.2" r="1.95"/>
<circle cx="535.1" cy="464.2" r="1.95"/>
<circle cx="464.7" cy="463.3" r="1.95"/>
<circle cx="487.7" cy="468.6" r="1.95"/>
<circle cx="479.7" cy="469.5" r="1.95"/>
<circle cx="527.5" cy="469.5" r="1.95"/>
<circle cx="532.8" cy="470.4" r="1.95"/>
<circle cx="561.1" cy="470.4" r="1.95"/>
<circle cx="496.5" cy="473.8" r="1.95"/>
<circle cx="504.0" cy="473.8" r="1.95"/>
<circle cx="526.1" cy="484.4" r="1.95"/>
<circle cx="471.4" cy="486.2" r="1.95"/>
<circle cx="531.9" cy="487.6" r="1.95"/>
<circle cx="473.5" cy="490.1" r="1.95"/>
<circle cx="476.2" cy="495.9" r="1.95"/>
<circle cx="522.4" cy="497.5" r="1.95"/>
<circle cx="465.5" cy="503.5" r="1.95"/>
<circle cx="488.6" cy="502.8" r="1.95"/>
<circle cx="469.4" cy="505.6" r="1.95"/>
<circle cx="528.9" cy="513.6" r="1.95"/>
<circle cx="521.3" cy="516.8" r="1.95"/>
<circle cx="482.0" cy="518.9" r="1.95"/>
<circle cx="584.6" cy="370.4" r="1.95"/>
<circle cx="592.2" cy="400.0" r="1.95"/>
<circle cx="599.7" cy="414.6" r="1.95"/>
<circle cx="600.7" cy="416.1" r="1.95"/>
<circle cx="615.4" cy="417.8" r="1.95"/>
<circle cx="579.9" cy="421.7" r="1.95"/>
<circle cx="603.9" cy="422.8" r="1.95"/>
<circle cx="591.5" cy="430.2" r="1.95"/>
<circle cx="577.4" cy="430.2" r="1.95"/>
<circle cx="579.1" cy="431.5" r="1.95"/>
<circle cx="605.7" cy="439.3" r="1.95"/>
<circle cx="599.2" cy="442.1" r="1.95"/>
<circle cx="616.5" cy="446.7" r="1.95"/>
<circle cx="580.9" cy="447.0" r="1.95"/>
<circle cx="576.5" cy="449.5" r="1.95"/>
<circle cx="593.8" cy="450.0" r="1.95"/>
<circle cx="594.7" cy="453.6" r="1.95"/>
<circle cx="617.2" cy="454.5" r="1.95"/>
<circle cx="596.1" cy="456.8" r="1.95"/>
<circle cx="597.0" cy="461.0" r="1.95"/>
<circle cx="614.2" cy="463.9" r="1.95"/>
<circle cx="582.3" cy="466.0" r="1.95"/>
<circle cx="578.4" cy="465.6" r="1.95"/>
<circle cx="575.3" cy="468.6" r="1.95"/>
<circle cx="602.7" cy="471.3" r="1.95"/>
<circle cx="603.0" cy="476.8" r="1.95"/>
<circle cx="598.1" cy="479.3" r="1.95"/>
<circle cx="618.1" cy="492.5" r="1.95"/>
<circle cx="593.1" cy="506.5" r="1.95"/>
<circle cx="620.2" cy="517.5" r="1.95"/>
<circle cx="619.2" cy="520.0" r="1.95"/>
<circle cx="613.3" cy="527.8" r="1.95"/>
</g>
<polyline points="142.7,474.0 143.6,470.9 144.8,467.1 146.1,462.8 147.3,459.1 148.6,456.0 149.8,452.9 151.0,450.4 152.3,449.1 153.2,451.0 154.4,450.0 156.0,449.8 157.9,448.8 159.7,448.3 161.6,447.3 162.8,446.6 163.7,444.8 164.5,446.6 166.0,446.3 167.8,445.8 169.1,446.3 170.5,444.8 171.5,446.3 172.8,446.6 174.0,449.1 174.9,446.0 175.9,443.5 177.1,440.4 178.4,439.2 179.6,438.3 180.9,435.5 181.7,433.6 182.7,436.1 184.0,437.1 185.2,438.0 186.7,439.2 187.9,439.8 189.2,441.1 190.8,442.3 192.4,443.3 193.9,443.5 195.1,441.7 196.4,440.8 197.6,441.3 198.6,443.8 199.9,446.0 201.1,447.9 202.3,450.4 203.8,451.2 205.7,452.2 207.3,453.2 208.8,453.5 210.3,453.7 211.9,455.3 213.2,457.8 214.4,460.3 215.6,462.2 216.5,464.7 218.1,468.4 219.7,469.6 221.2,470.9 223.1,471.1 224.9,471.5 225.9,469.6 226.8,465.9 227.7,462.8 228.7,460.9 229.9,461.9 231.1,460.9 232.4,459.7 233.6,459.1 234.9,457.8 236.1,457.2 237.4,458.2 238.6,459.1 239.8,458.7 240.8,456.6 241.7,454.1 242.6,452.2 243.8,451.0 245.4,450.0 247.0,449.1 247.9,452.2 248.8,456.0 249.8,459.1 250.8,460.9 252.0,461.2 253.3,462.2 254.5,460.9 255.7,459.1 257.0,459.7 258.2,460.7 259.7,460.9 261.2,461.2 262.8,460.9 264.1,461.6 265.3,462.8 266.6,464.7 267.8,466.5 268.7,467.1 269.4,463.4 270.3,459.1 271.1,456.0 272.1,454.1 273.1,452.2 274.0,450.4 275.2,449.8 276.1,447.3 277.1,444.8 278.1,441.7 279.0,439.8 279.8,442.3 280.8,443.5 282.1,441.1 283.3,438.8 284.6,436.7 285.8,436.1 287.3,436.3 288.5,436.7 289.5,436.1 290.2,438.0 291.0,439.8 292.0,439.2 293.0,440.8 294.0,441.7 296.2,445.5 297.5,444.9 298.4,448.6 299.7,451.7 300.9,453.6 302.2,449.9 303.4,448.6 304.7,448.0 306.1,448.6 307.6,449.9 309.3,451.7 310.5,452.4 312.1,453.4 313.0,456.1 313.9,461.1 314.8,466.0 315.8,470.4 317.1,472.9 318.6,473.2 320.4,472.9 321.7,473.7 322.9,476.0 324.2,476.6 325.2,477.8 325.8,482.2 326.4,487.1 327.0,490.9 327.9,495.2 328.8,499.6 329.8,502.7 331.0,504.5 332.2,505.2 333.5,503.3 334.5,501.4 335.3,502.7 336.3,498.9 337.2,500.8 338.0,504.5 338.7,501.4 339.7,498.3 340.9,497.7 345.9,497.7 347.8,497.1 349.0,499.6 349.9,498.9 350.9,497.1 351.9,493.4 353.1,492.1 354.0,494.6 354.8,498.1 356.5,498.6 358.3,499.6 360.2,500.2 361.1,501.4 361.5,508.3 362.2,501.8 366.2,501.8 367.2,505.8 374.9,506.0 376.1,507.6 376.9,499.6 377.6,490.2 381.1,489.9 381.9,484.7 382.6,481.6 383.4,485.9 384.3,489.6 385.5,492.7 387.1,492.7 388.0,488.4 388.8,483.4 389.8,480.9 391.1,482.4 392.0,479.7 393.3,477.8 394.8,476.2 396.0,474.1 397.3,473.5 398.5,475.3 399.5,472.2 400.7,469.8 402.0,471.6 402.9,472.9 404.1,470.4 405.7,468.5 407.2,467.5 408.7,466.0 409.9,463.5 411.2,461.7 412.8,461.1 414.4,462.0 415.7,463.3 416.9,461.7 418.1,463.5 419.4,463.8 420.4,467.3 421.1,471.6 421.9,474.7 422.7,471.6 423.6,466.6 424.6,465.4 425.8,464.2 427.1,461.1 428.1,462.5 429.3,463.3 430.2,462.3 431.1,465.4 432.0,468.5 433.0,462.9 435.2,462.5 436.5,456.0 437.2,451.6 438.1,449.8 439.0,451.0 440.0,454.1 441.2,455.3 442.5,454.7 443.7,455.7 444.9,457.5 446.4,457.2 447.7,457.0 448.7,454.1 449.7,450.4 450.9,448.8 452.4,447.9 453.6,447.3 454.9,448.5 456.1,449.8 457.4,451.6 458.6,454.1 459.6,456.6 460.5,458.4 461.7,457.8 463.0,458.2 464.2,459.1 465.8,459.4 467.3,459.9 468.8,460.3 470.0,461.6 470.8,464.7 471.3,468.4 472.0,470.2 473.5,470.6 475.0,470.9 475.7,467.8 476.6,465.3 477.5,467.1 478.5,469.6 479.7,469.9 481.0,470.2 481.7,466.5 482.8,463.4 484.1,460.3 485.3,457.8 486.6,455.3 487.8,453.7 489.0,453.2 490.3,450.4 491.5,446.6 492.8,443.3 494.0,443.5 495.2,443.8 496.5,445.4 497.7,446.0 498.6,442.3 499.3,438.6 500.8,437.6 502.3,438.0 503.9,438.8 505.2,439.6 506.8,438.8 508.3,438.3 509.5,439.2 510.8,439.8 511.5,443.5 512.3,447.3 513.3,449.1 516.2,450.9 517.2,452.8 518.4,454.7 519.7,456.9 520.9,459.0 522.2,461.1 523.4,463.1 524.7,464.8 525.9,466.5 527.1,468.1 528.4,468.1 529.6,466.5 530.5,463.4 531.4,460.9 532.4,457.8 533.6,455.3 534.8,452.8 536.1,450.3 537.3,447.8 538.3,447.2 539.2,444.1 540.4,443.5 541.3,441.6 542.5,439.8 543.8,437.9 545.0,436.0 546.3,434.5 547.5,433.5 548.8,433.3 550.4,434.5 552.0,435.0 553.5,434.5 555.0,435.4 556.6,436.3 558.2,436.6 559.7,437.0 560.9,437.9 561.9,437.3 563.2,436.6 564.4,437.9 565.9,439.1 567.4,439.5 569.0,440.0 570.6,440.4 571.9,439.5 573.4,438.8 574.8,437.9 576.5,437.3 578.1,437.0 579.6,436.6 580.5,436.0 581.4,435.0 582.0,438.5 582.6,441.6 583.6,443.2 584.9,442.9 586.1,444.1 587.1,447.0 588.1,445.3 589.2,443.5 590.5,444.7 591.7,446.0 593.0,444.1 594.2,443.5 594.8,446.6 595.8,447.8 597.5,447.8 599.2,447.5 600.8,447.8 601.6,450.3 602.3,454.7 602.8,458.6 603.5,454.7 604.5,452.8 605.7,452.2 607.0,452.8 607.9,455.3 608.7,458.4 609.7,462.1" fill="none" stroke="#000" stroke-width="1.8" stroke-linejoin="miter" stroke-miterlimit="3" stroke-linecap="butt"/>
<line x1="132.9" x2="620.7" y1="404.4" y2="404.4" stroke="#ff2f12" stroke-width="1.35"/>
<line x1="132.9" x2="620.7" y1="481.7" y2="481.7" stroke="#ff2f12" stroke-width="1.35"/>
<rect x="320.2" y="357.6" width="73.8" height="228.1" fill="rgb(190,190,190)" fill-opacity="0.3"/>
<rect x="109.3" y="357.6" width="534.9" height="228.1" fill="none" stroke="#7c7c7c" stroke-width="1.5"/>
<g stroke="#2e2e2e" stroke-width="1.45">
<line x1="104.0" x2="109.3" y1="570.1" y2="570.1"/>
<line x1="104.0" x2="109.3" y1="537.3" y2="537.3"/>
<line x1="104.0" x2="109.3" y1="504.6" y2="504.6"/>
<line x1="104.0" x2="109.3" y1="471.9" y2="471.9"/>
<line x1="104.0" x2="109.3" y1="439.2" y2="439.2"/>
<line x1="104.0" x2="109.3" y1="406.5" y2="406.5"/>
<line x1="104.0" x2="109.3" y1="373.7" y2="373.7"/>
<line x1="133.0" x2="133.0" y1="585.7" y2="591.0"/>
<line x1="209.7" x2="209.7" y1="585.7" y2="591.0"/>
<line x1="286.4" x2="286.4" y1="585.7" y2="591.0"/>
<line x1="363.2" x2="363.2" y1="585.7" y2="591.0"/>
<line x1="439.9" x2="439.9" y1="585.7" y2="591.0"/>
<line x1="516.6" x2="516.6" y1="585.7" y2="591.0"/>
<line x1="593.3" x2="593.3" y1="585.7" y2="591.0"/>
</g>
<g fill="#4d4d4d" stroke="#4d4d4d" stroke-width="0.15" font-size="14.5">
<text transform="translate(99.5,575.3) scale(1,1.045)" text-anchor="end">-3</text>
<text transform="translate(99.5,542.5) scale(1,1.045)" text-anchor="end">-2</text>
<text transform="translate(99.5,509.8) scale(1,1.045)" text-anchor="end">-1</text>
<text transform="translate(99.5,477.1) scale(1,1.045)" text-anchor="end">0</text>
<text transform="translate(99.5,444.4) scale(1,1.045)" text-anchor="end">1</text>
<text transform="translate(99.5,411.7) scale(1,1.045)" text-anchor="end">2</text>
<text transform="translate(99.5,378.9) scale(1,1.045)" text-anchor="end">3</text>
<text transform="translate(133.0,606.1) scale(1,1.045)" text-anchor="middle">0</text>
<text transform="translate(209.7,606.1) scale(1,1.045)" text-anchor="middle">2</text>
<text transform="translate(286.4,606.1) scale(1,1.045)" text-anchor="middle">4</text>
<text transform="translate(363.2,606.1) scale(1,1.045)" text-anchor="middle">6</text>
<text transform="translate(439.9,606.1) scale(1,1.045)" text-anchor="middle">8</text>
<text transform="translate(516.6,606.1) scale(1,1.045)" text-anchor="middle">10</text>
<text transform="translate(593.3,606.1) scale(1,1.045)" text-anchor="middle">12</text>
</g>
</g>
<text transform="translate(0,25.3) scale(1.07,1.045)" x="10.31 31.10 39.50 49.67 77.52 95.27 102.74 119.24 133.62 142.43 160.93 179.50 187.07 202.52 210.95 220.09 237.78 256.98" y="0" font-size="31.8" fill="#000">A. Males only (XY)</text>
<text transform="translate(0,341.2) scale(1.07,1.045)" x="-3.38 16.79 25.20 31.95 49.64 68.01 94.87 112.63 120.09 136.60 150.97 159.79 178.29 196.86 204.42 219.88 228.30 237.45 255.71 275.47" y="0" font-size="31.8" fill="#000">B. Females only (XX)</text>
<text transform="translate(74.9,234.4) rotate(-90) scale(1,1.045)" font-size="32.2" fill="#000" stroke="#000" stroke-width="0.35">Tajima's D</text>
<text transform="translate(74.9,547.4) rotate(-90) scale(1,1.045)" font-size="32.2" fill="#000" stroke="#000" stroke-width="0.35">Tajima's D</text>
<text transform="translate(226.3,636.7) scale(1,1.045)" font-size="32.2" textLength="301.6" lengthAdjust="spacingAndGlyphs" fill="#000" stroke="#000" stroke-width="0.35">Chromosome 7 (MB)</text>
</svg>
</body></html>
